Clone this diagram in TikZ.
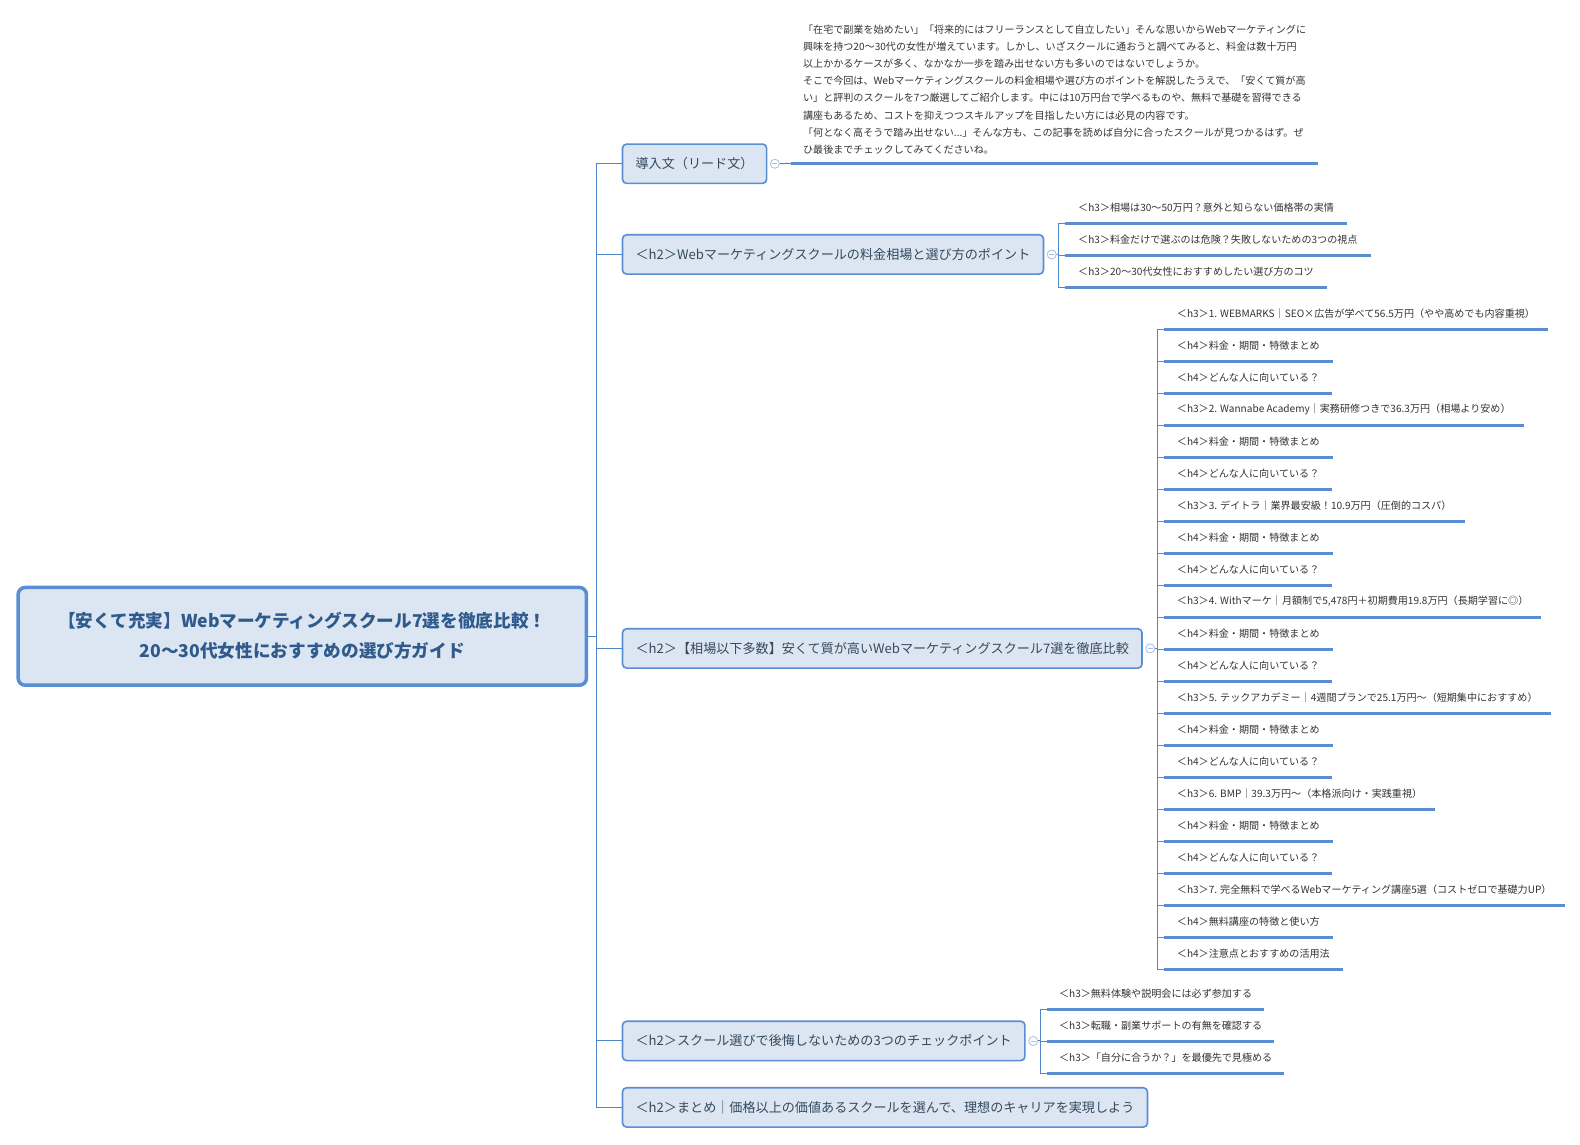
\documentclass[tikz,border=0pt]{standalone}
\usepackage{fontspec}
\setmainfont{Noto Sans CJK JP}
\usetikzlibrary{positioning}
\definecolor{mapblue}{HTML}{5A8ED3}
\definecolor{mapline}{HTML}{4F86C8}
\definecolor{mapfill}{HTML}{DCE6F2}
\definecolor{maptext}{HTML}{34495E}
\definecolor{roottext}{HTML}{2F5A8C}
\definecolor{leaftext}{HTML}{333333}
\definecolor{togline}{HTML}{A7BFE4}

\begin{document}
\begin{tikzpicture}[x=1pt, y=-1pt,
  root/.style={rectangle, draw=mapblue, fill=mapfill, line width=3.5pt, rounded corners=7pt,
               minimum width=564pt, minimum height=97pt, align=center,
               font=\fontsize{17.5}{30}\selectfont\bfseries, text=roottext},
  topic/.style={rectangle, draw=mapblue, fill=mapfill, line width=1.6pt, rounded corners=4pt,
                minimum height=39pt, inner xsep=13pt, anchor=west,
                font=\fontsize{13}{16}\selectfont, text=maptext},
  leaf/.style={inner xsep=13pt, inner ysep=0pt, outer sep=0pt, minimum height=31.75pt,
               font=\fontsize{10}{17}\selectfont, text=leaftext,
               append after command={(\tikzlastnode.south west) edge[uline] (\tikzlastnode.south east)}},
  uline/.style={line width=3pt, mapblue},
  link/.style={line width=1pt, mapline},
  tog/.style={circle, draw=togline, fill=white, line width=0.8pt, minimum size=9pt, inner sep=0pt,
              path picture={\draw[togline, line width=0.8pt]
                ([xshift=-2.5pt]path picture bounding box.center) -- ([xshift=2.5pt]path picture bounding box.center);}},
]
  \fill[white] (0,0) rectangle (1568,1136);
  \useasboundingbox (0,0) rectangle (1568,1136);

  % Central topic
  \node[root] (root) at (300,631.5) {\raisebox{2.5pt}{【安くて充実】Webマーケティングスクール7選を徹底比較！}\\\raisebox{2.5pt}{20〜30代女性におすすめの選び方ガイド}};

  % Main topics
  \node[topic] (lead) at (617,162.5) {導入文（リード文）};
  \node[topic] (cost) at (617,252.5) {＜h2＞Webマーケティングスクールの料金相場と選び方のポイント};
  \node[topic] (rank) at (617,643.5) {＜h2＞【相場以下多数】安くて質が高いWebマーケティングスクール7選を徹底比較};
  \node[topic] (check) at (617,1033) {＜h2＞スクール選びで後悔しないための3つのチェックポイント};
  \node[topic] (sum) at (617,1099) {＜h2＞まとめ｜価格以上の価値あるスクールを選んで、理想のキャリアを実現しよう};

  % Collapse marks
  \node[tog, right=2.5pt of lead] (tlead) {};
  \node[tog, right=2.5pt of cost] (tcost) {};
  \node[tog, right=2.5pt of rank] (trank) {};
  \node[tog, right=2.5pt of check] (tcheck) {};

  % Lead paragraph
  \node[leaf, anchor=south west, align=left, inner xsep=12pt, inner ysep=9pt, minimum height=0pt] (intro) at (785,162) {%
    「在宅で副業を始めたい」「将来的にはフリーランスとして自立したい」そんな思いからWebマーケティングに\\
    興味を持つ20〜30代の女性が増えています。しかし、いざスクールに通おうと調べてみると、料金は数十万円\\
    以上かかるケースが多く、なかなか一歩を踏み出せない方も多いのではないでしょうか。\\
    そこで今回は、Webマーケティングスクールの料金相場や選び方のポイントを解説したうえで、「安くて質が高\\
    い」と評判のスクールを7つ厳選してご紹介します。中には10万円台で学べるものや、無料で基礎を習得できる\\
    講座もあるため、コストを抑えつつスキルアップを目指したい方には必見の内容です。\\
    「何となく高そうで踏み出せない...」そんな方も、この記事を読めば自分に合ったスクールが見つかるはず。ぜ\\
    ひ最後までチェックしてみてくださいね。};

  % Price section
  \node[leaf, anchor=south west] (c1) at (1057,222) {＜h3＞相場は30〜50万円？意外と知らない価格帯の実情};
  \node[leaf, below=0pt of c1.south west, anchor=north west] (c2) {＜h3＞料金だけで選ぶのは危険？失敗しないための3つの視点};
  \node[leaf, below=0pt of c2.south west, anchor=north west] (c3) {＜h3＞20〜30代女性におすすめしたい選び方のコツ};

  % Seven schools
  \node[leaf, anchor=south west] (s1) at (1155,327) {＜h3＞1. WEBMARKS｜SEO×広告が学べて56.5万円（やや高めでも内容重視）};
  \node[leaf, below=0pt of s1.south west, anchor=north west] (s2) {＜h4＞料金・期間・特徴まとめ};
  \node[leaf, below=0pt of s2.south west, anchor=north west] (s3) {＜h4＞どんな人に向いている？};
  \node[leaf, below=0pt of s3.south west, anchor=north west] (s4) {＜h3＞2. Wannabe Academy｜実務研修つきで36.3万円（相場より安め）};
  \node[leaf, below=0pt of s4.south west, anchor=north west] (s5) {＜h4＞料金・期間・特徴まとめ};
  \node[leaf, below=0pt of s5.south west, anchor=north west] (s6) {＜h4＞どんな人に向いている？};
  \node[leaf, below=0pt of s6.south west, anchor=north west] (s7) {＜h3＞3. デイトラ｜業界最安級！10.9万円（圧倒的コスパ）};
  \node[leaf, below=0pt of s7.south west, anchor=north west] (s8) {＜h4＞料金・期間・特徴まとめ};
  \node[leaf, below=0pt of s8.south west, anchor=north west] (s9) {＜h4＞どんな人に向いている？};
  \node[leaf, below=0pt of s9.south west, anchor=north west] (s10) {＜h3＞4. Withマーケ｜月額制で5,478円＋初期費用19.8万円（長期学習に◎）};
  \node[leaf, below=0pt of s10.south west, anchor=north west] (s11) {＜h4＞料金・期間・特徴まとめ};
  \node[leaf, below=0pt of s11.south west, anchor=north west] (s12) {＜h4＞どんな人に向いている？};
  \node[leaf, below=0pt of s12.south west, anchor=north west] (s13) {＜h3＞5. テックアカデミー｜4週間プランで25.1万円〜（短期集中におすすめ）};
  \node[leaf, below=0pt of s13.south west, anchor=north west] (s14) {＜h4＞料金・期間・特徴まとめ};
  \node[leaf, below=0pt of s14.south west, anchor=north west] (s15) {＜h4＞どんな人に向いている？};
  \node[leaf, below=0pt of s15.south west, anchor=north west] (s16) {＜h3＞6. BMP｜39.3万円〜（本格派向け・実践重視）};
  \node[leaf, below=0pt of s16.south west, anchor=north west] (s17) {＜h4＞料金・期間・特徴まとめ};
  \node[leaf, below=0pt of s17.south west, anchor=north west] (s18) {＜h4＞どんな人に向いている？};
  \node[leaf, below=0pt of s18.south west, anchor=north west] (s19) {＜h3＞7. 完全無料で学べるWebマーケティング講座5選（コストゼロで基礎力UP）};
  \node[leaf, below=0pt of s19.south west, anchor=north west] (s20) {＜h4＞無料講座の特徴と使い方};
  \node[leaf, below=0pt of s20.south west, anchor=north west] (s21) {＜h4＞注意点とおすすめの活用法};

  % Checkpoints
  \node[leaf, anchor=south west, inner xsep=12pt] (k1) at (1039,1002) {＜h3＞無料体験や説明会には必ず参加する};
  \node[leaf, inner xsep=12pt, below=0pt of k1.south west, anchor=north west] (k2) {＜h3＞転職・副業サポートの有無を確認する};
  \node[leaf, inner xsep=12pt, below=0pt of k2.south west, anchor=north west] (k3) {＜h3＞「自分に合うか？」を最優先で見極める};

  % Connectors
  \foreach \n in {lead,cost,rank,check,sum}
    \draw[link] (root.east) -- ++(8,0) |- (\n.west);
  \draw[link] (tlead.east) -- (intro.south west);
  \foreach \i in {1,2,3}
    \draw[link] (tcost.east) -- ++(2,0) |- (c\i.south west);
  \foreach \i in {1,...,21}
    \draw[link] (trank.east) -- ++(2.5,0) |- (s\i.south west);
  \foreach \i in {1,2,3}
    \draw[link] (tcheck.east) -- ++(2.5,0) |- (k\i.south west);
\end{tikzpicture}
\end{document}
